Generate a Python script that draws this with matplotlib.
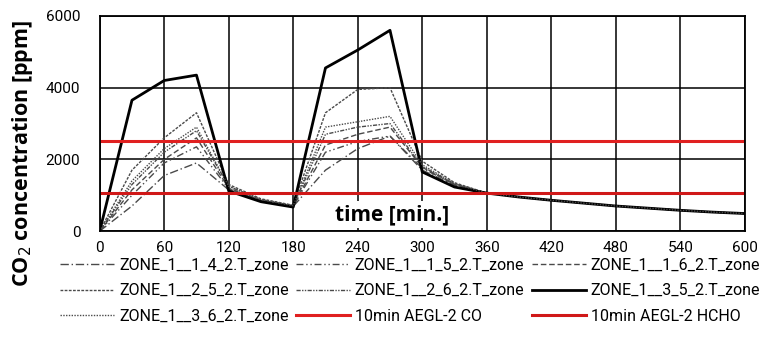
import matplotlib
matplotlib.use("Agg")
import matplotlib.pyplot as plt

t = [0, 30, 60, 90, 120, 150, 180, 210, 240, 270, 300, 330, 360, 390, 420, 450, 480, 510, 540, 570, 600]
tail = [1060, 950, 860, 780, 700, 640, 580, 530, 490]
z114 = [0, 700, 1550, 1900, 1150, 840, 690, 1700, 2300, 2650, 1700, 1280] + tail
z115 = [0, 1000, 1900, 2350, 1180, 850, 700, 2200, 2500, 2650, 1750, 1300] + tail
z116 = [0, 1150, 2000, 2600, 1200, 860, 700, 2400, 2700, 2900, 1780, 1300] + tail
z125 = [0, 1700, 2600, 3300, 1300, 900, 720, 3300, 3950, 4000, 1950, 1350] + tail
z126 = [0, 1300, 2200, 2800, 1250, 870, 705, 2700, 2900, 3000, 1800, 1320] + tail
z135 = [0, 3650, 4200, 4350, 1120, 820, 670, 4550, 5050, 5600, 1650, 1230] + tail
z136 = [0, 1400, 2300, 2900, 1250, 880, 710, 2900, 3050, 3200, 1850, 1320] + tail
aegl_co = 2500
aegl_hcho = 1070
xticks = [0, 60, 120, 180, 240, 300, 360, 420, 480, 540, 600]
yticks = [0, 2000, 4000, 6000]

tick_font = "Roboto"
fig = plt.figure(figsize=(7.67, 3.47), dpi=100)
ax = fig.add_axes([0.130, 0.334, 0.841, 0.620])

grey = "#4a4a4a"
ax.plot(t, z114, color=grey, lw=1.0, ls=(0, (6, 2, 1, 2)), label="ZONE_1__1_4_2.T_zone")
ax.plot(t, z115, color=grey, lw=1.0, ls=(0, (5, 2, 1, 2, 1, 2)), label="ZONE_1__1_5_2.T_zone")
ax.plot(t, z116, color=grey, lw=1.0, ls=(0, (4, 2)), label="ZONE_1__1_6_2.T_zone")
ax.plot(t, z125, color=grey, lw=1.0, ls=(0, (2, 1)), label="ZONE_1__2_5_2.T_zone")
ax.plot(t, z126, color=grey, lw=1.0, ls=(0, (3, 1, 1, 1, 1, 1)), label="ZONE_1__2_6_2.T_zone")
ax.plot(t, z135, color="black", lw=2.0, ls="-", label="ZONE_1__3_5_2.T_zone")
ax.plot(t, z136, color=grey, lw=1.0, ls=(0, (1, 1)), label="ZONE_1__3_6_2.T_zone")
ax.axhline(aegl_co, color="#e02020", lw=2.2, label="10min AEGL-2 CO")
ax.axhline(aegl_hcho, color="#d01818", lw=2.2, label="10min AEGL-2 HCHO")

ax.set_xlim(0, 600)
ax.set_ylim(0, 6000)
ax.set_xticks(xticks)
ax.set_yticks(yticks)
ax.grid(True, color="black", lw=1.1)
ax.set_axisbelow(True)
ax.tick_params(axis="x", length=0, pad=7)
ax.tick_params(axis="y", length=0, pad=14)
for lab in ax.get_xticklabels() + ax.get_yticklabels():
    lab.set_fontfamily(tick_font)
    lab.set_fontsize(11)
for s in ax.spines.values():
    s.set_linewidth(1.3)

ax.set_ylabel("CO$_2$ concentration [ppm]", fontsize=15.5, fontweight="bold", fontfamily="Open Sans")
ax.yaxis.set_label_coords(-0.1, 0.36)
ax.text(272, 460, "time [min.]", fontsize=15, fontweight="bold", fontfamily="Open Sans",
        ha="center", va="center",
        bbox=dict(facecolor="white", edgecolor="none", pad=2))

handles, labels = ax.get_legend_handles_labels()
order = [0, 3, 6, 1, 4, 7, 2, 5, 8]
leg = fig.legend([handles[i] for i in order], [labels[i] for i in order],
                 loc="upper left", bbox_to_anchor=(0.078, 0.258), ncol=3, frameon=False,
                 prop={"family": tick_font, "size": 11.5}, handlelength=3.4, columnspacing=0.45,
                 labelspacing=0.67, handletextpad=0.3, borderpad=0, borderaxespad=0)

fig.savefig("out.png", dpi=100)
